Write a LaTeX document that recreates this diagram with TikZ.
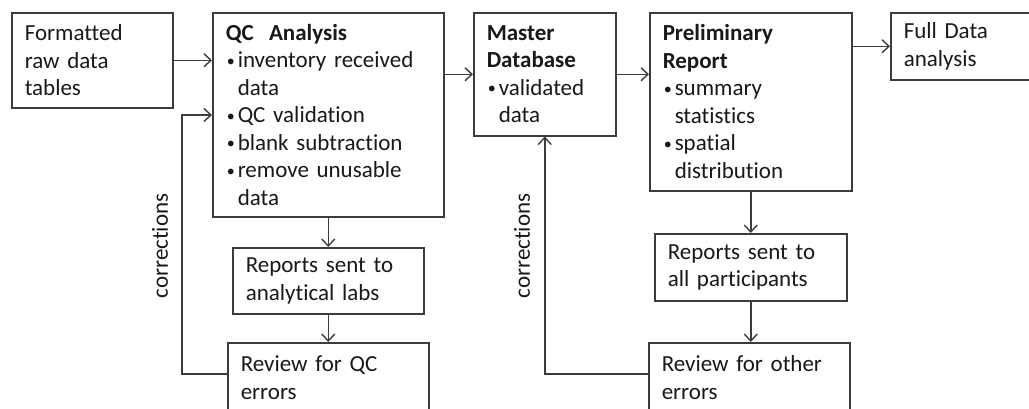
\documentclass[tikz,border=0pt]{standalone}
\usepackage{fontspec}
\setmainfont{Carlito}[Ligatures=NoCommon]
\usetikzlibrary{arrows.meta,calc}
\definecolor{ln}{RGB}{60,60,60}
\definecolor{tx}{RGB}{25,25,25}
\newcommand\bul{\makebox[12pt][l]{\hspace{1pt}\raisebox{1.5pt}{\scalebox{0.7}{•}}}}
\newcommand\ind{\hspace*{12pt}}
\begin{document}
\begin{tikzpicture}[x=1pt,y=-1pt,
  box/.style={draw=ln,line width=1.5pt,anchor=north west,rectangle,inner xsep=13pt,inner ysep=0pt,
    align=left,text=tx,font=\fontsize{23}{27.5}\selectfont},
  arr/.style={draw=ln,line width=1.5pt,-{Straight Barb[length=7pt,width=13pt,line width=1.4pt]}},
  lbl/.style={text=tx,font=\fontsize{23}{27.5}\selectfont,rotate=90,inner sep=0pt}]
\clip (0,0) rectangle (1029,408);
\fill[white] (0,0) rectangle (1029,408);
\node[box,minimum width=161pt,minimum height=95pt,text width=135pt] (fmt) at (11,12)
  {Formatted\\raw data\\tables};
\node[box,minimum width=231pt,minimum height=204pt,text width=205pt] (qc) at (212,12)
  {\textbf{QC\ \ Analysis}\\\bul inventory received\\\ind data\\\bul QC validation\\\bul blank subtraction\\\bul remove unusable\\\ind data};
\node[box,minimum width=191pt,minimum height=66pt,text width=165pt] (rep1) at (232,247)
  {Reports sent to\\analytical labs};
\node[box,minimum width=201pt,minimum height=70pt,text width=175pt] (rev1) at (227,342)
  {Review for QC\\errors};
\node[box,minimum width=142pt,minimum height=123pt,text width=116pt] (mdb) at (473,12)
  {\textbf{Master}\\\textbf{Database}\\\bul validated\\\ind data};
\node[box,minimum width=202pt,minimum height=178pt,text width=176pt] (pre) at (649,12)
  {\textbf{Preliminary}\\\textbf{Report}\\\bul summary\\\ind statistics\\\bul spatial\\\ind distribution};
\node[box,minimum width=192pt,minimum height=67pt,text width=166pt] (rep2) at (654,233)
  {Reports sent to\\all participants};
\node[box,minimum width=201pt,minimum height=70pt,text width=175pt] (rev2) at (648,342)
  {Review for other\\errors};
\node[box,minimum width=160pt,minimum height=67pt,text width=134pt] (full) at (890,12)
  {Full Data\\analysis};
% connectors
\draw[arr] (fmt.east) -- (fmt.east -| qc.west);
\draw[arr] (mdb.west -| qc.east) -- (mdb.west);
\draw[arr] (mdb.east) -- (mdb.east -| pre.west);
\draw[arr] (full.west -| pre.east) -- (full.west);
\draw[arr] (qc.south) -- (rep1.north);
\draw[arr] (rep1.south) -- (rev1.north);
\draw[arr] (pre.south) -- (rep2.north);
\draw[arr] (rep2.south) -- (rev2.north -| rep2.south);
\coordinate (k1) at (182,115);
\draw[arr] ([yshift=-32pt]rev1.north west) -| (k1) -- (k1 -| qc.west);
\draw[arr] ([yshift=-32pt]rev2.north west) -| (mdb.south);
\node[lbl] (c1) at (160,246) {corrections};
\node[lbl] (c2) at (522,246) {corrections};
\end{tikzpicture}
\end{document}
